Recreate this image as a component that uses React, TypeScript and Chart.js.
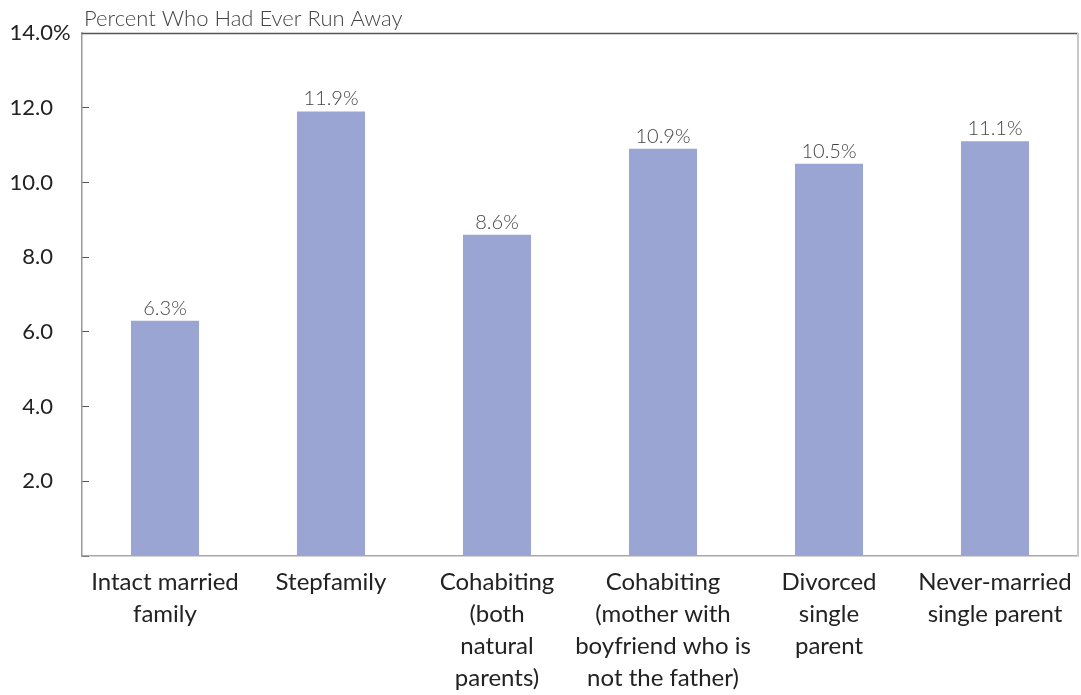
import React, { useEffect, useRef } from "react";
import { Chart, registerables } from "chart.js";

Chart.register(...registerables);

// Family structure categories (multi-line axis labels)
const categories: string[][] = [
  ["Intact married", "family"],
  ["Stepfamily"],
  ["Cohabiting", "(both", "natural", "parents)"],
  ["Cohabiting", "(mother with", "boyfriend who is", "not the father)"],
  ["Divorced", "single", "parent"],
  ["Never-married", "single parent"],
];

// Percent who had ever run away
const percentRunAway: number[] = [6.3, 11.9, 8.6, 10.9, 10.5, 11.1];

const chartTitle = "Percent Who Had Ever Run Away";
const yMin = 0;
const yMax = 14;
const yStep = 2;

const FONT = "Lato, 'Open Sans', 'DejaVu Sans', sans-serif";

// Value labels above each bar
const barValueLabels = {
  id: "barValueLabels",
  afterDatasetsDraw(chart: any) {
    const { ctx } = chart;
    const meta = chart.getDatasetMeta(0);
    ctx.save();
    ctx.font = `300 20px ${FONT}`;
    ctx.fillStyle = "#444444";
    ctx.textAlign = "center";
    ctx.textBaseline = "alphabetic";
    meta.data.forEach((bar: any, i: number) => {
      ctx.fillText(`${percentRunAway[i].toFixed(1)}%`, bar.x, bar.y - 6);
    });
    ctx.restore();
  },
};

// Title above the plot, frame lines on the top and right, and the % sign on the top tick
const frameAndTitle = {
  id: "frameAndTitle",
  afterDraw(chart: any) {
    const { ctx, chartArea } = chart;
    ctx.save();
    ctx.strokeStyle = "#555555";
    ctx.lineWidth = 1.5;
    ctx.beginPath();
    ctx.moveTo(chartArea.left, chartArea.top + 0.5);
    ctx.lineTo(chartArea.right, chartArea.top + 0.5);
    ctx.stroke();
    ctx.strokeStyle = "#c8c8c8";
    ctx.lineWidth = 2;
    ctx.beginPath();
    ctx.moveTo(chartArea.right, chartArea.top);
    ctx.lineTo(chartArea.right, chartArea.bottom);
    ctx.stroke();

    ctx.font = `300 22px ${FONT}`;
    ctx.fillStyle = "#444444";
    ctx.textAlign = "left";
    ctx.textBaseline = "alphabetic";
    ctx.fillText(chartTitle, chartArea.left + 2, chartArea.top - 7);

    const y = chart.scales.y;
    ctx.font = `22px ${FONT}`;
    ctx.fillStyle = "#222222";
    ctx.textAlign = "left";
    ctx.textBaseline = "middle";
    ctx.fillText("%", 53, y.getPixelForValue(yMax));
    ctx.restore();
  },
};

export default function App() {
  const canvasRef = useRef<HTMLCanvasElement | null>(null);

  useEffect(() => {
    if (!canvasRef.current) return;
    const chart = new Chart(canvasRef.current, {
      type: "bar",
      data: {
        labels: categories,
        datasets: [
          {
            data: percentRunAway,
            backgroundColor: "#9aa5d3",
            borderWidth: 0,
            barPercentage: 0.41,
            categoryPercentage: 1,
          },
        ],
      },
      options: {
        responsive: false,
        animation: false,
        layout: { padding: { top: 33, right: 3, bottom: 0, left: 0 } },
        plugins: {
          legend: { display: false },
          tooltip: { enabled: false },
          title: { display: false },
        },
        scales: {
          x: {
            grid: { display: false, drawTicks: false },
            border: { display: true, color: "#a8a8a8", width: 1.5 },
            ticks: {
              color: "#222222",
              font: { family: FONT, size: 24, lineHeight: 1.333 },
              padding: 10,
              maxRotation: 0,
              autoSkip: false,
            },
            afterFit: (scale: any) => {
              scale.height = 139;
              scale.paddingLeft = 0;
              scale.paddingRight = 0;
            },
          },
          y: {
            min: yMin,
            max: yMax,
            grid: {
              drawOnChartArea: false,
              drawTicks: true,
              tickLength: -7,
              color: "#555555",
            },
            border: { display: true, color: "#9a9a9a", width: 1.5 },
            ticks: {
              stepSize: yStep,
              color: "#222222",
              font: { family: FONT, size: 22 },
              padding: 36,
              callback: (v: any) => (Number(v) === 0 ? "" : Number(v).toFixed(1)),
            },
            afterFit: (scale: any) => {
              scale.width = 82;
              scale.paddingTop = 0;
              scale.paddingBottom = 0;
            },
          },
        },
      },
      plugins: [barValueLabels, frameAndTitle],
    });
    return () => chart.destroy();
  }, []);

  return (
    <div style={{ position: "fixed", left: 0, top: 0, width: 1081, height: 695, background: "#ffffff" }}>
      <canvas ref={canvasRef} width={1081} height={695} style={{ display: "block" }} />
    </div>
  );
}
